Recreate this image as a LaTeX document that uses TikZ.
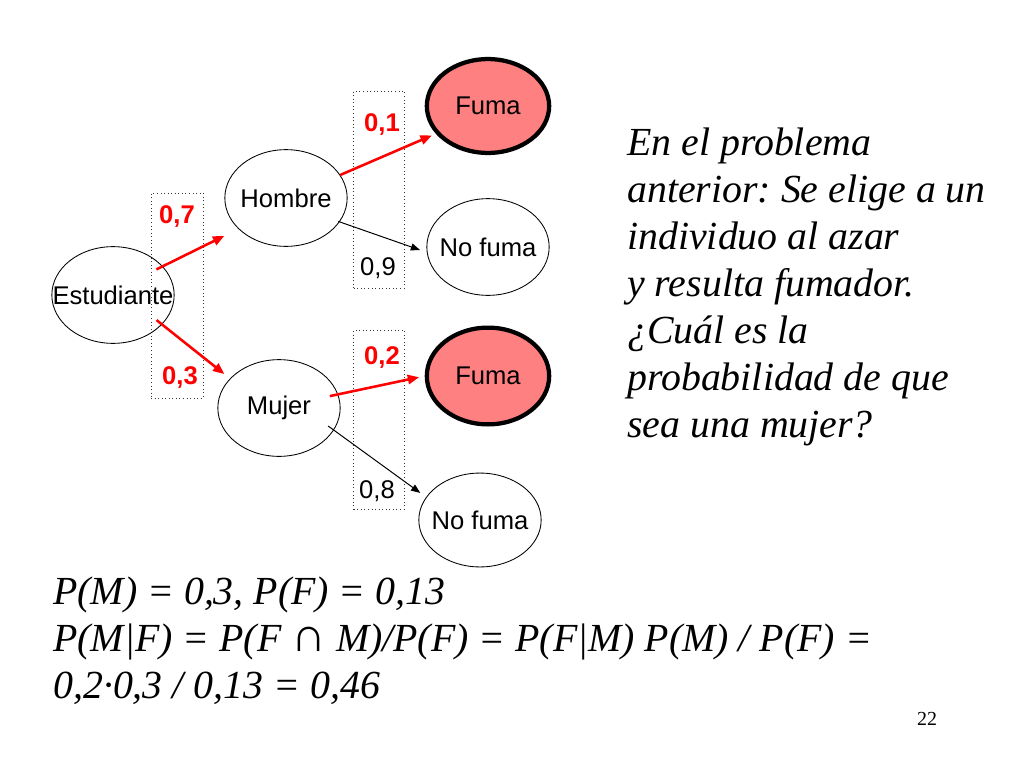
\documentclass[tikz,border=0pt]{standalone}
\usepackage{fontspec}
\setmainfont{Liberation Serif}
\newfontfamily\arial{Liberation Sans}
\usetikzlibrary{shapes.geometric,arrows.meta}
\definecolor{fumafill}{RGB}{255,128,128}
\frenchspacing

\begin{document}
\begin{tikzpicture}[
	x=0.703pt, y=-0.703pt,
	state/.style={
		draw, ellipse, line width=0.6pt, inner sep=0pt,
		minimum width=86pt, minimum height=68pt,
		font=\arial\fontsize{18}{21}\selectfont
	},
	smoke/.style={state, line width=3pt, fill=fumafill,
		minimum width=86pt, minimum height=66pt},
	probbox/.style={
		draw=black!80, dotted, line width=0.5pt, inner sep=0pt,
		minimum width=35.5pt
	},
	prob/.style={font=\arial\fontsize{18}{21}\selectfont, inner sep=0pt},
	redprob/.style={prob, font=\arial\bfseries\fontsize{18}{21}\selectfont, text=red},
	redarr/.style={-{Triangle[length=8pt,width=6.5pt]}, red, line width=1.8pt},
	blkarr/.style={-{Triangle[length=6.5pt,width=5pt]}, black, line width=0.7pt},
	txt/.style={font=\itshape\fontsize{28}{33}\selectfont, align=left, inner sep=0pt},
	]
	\useasboundingbox (0,0) rectangle (1024,768);
	
	% Dotted boxes round the probabilities
	\node[probbox, minimum width=36.6pt, minimum height=144pt] (box1) at (177,295.5) {};
	\node[probbox, minimum height=138.5pt] (box2) at (379,189.5) {};
	\node[probbox, minimum height=125.8pt] (box3) at (379,419.5) {};
	
	% Tree nodes
	\node[state] (est) at (113,295) {\makebox[0pt]{Estudiante}};
	\node[state] (hom) at (286,198) {\makebox[0pt]{Hombre}};
	\node[state] (muj) at (279,408) {\makebox[0pt]{Mujer}};
	\node[smoke] (fh)  at (488,106) {\makebox[0pt]{Fuma}};
	\node[state] (nfh) at (488,247) {\makebox[0pt]{No fuma}};
	\node[smoke, minimum height=68pt] (fm) at (488,376) {\makebox[0pt]{Fuma}};
	\node[state, minimum height=66pt] (nfm) at (480,520) {\makebox[0pt]{No fuma}};
	
	% Probabilities
	\node[redprob] (p07) at (177,217) {0,7};
	\node[redprob] (p03) at (180,378) {0,3};
	\node[redprob] (p01) at (382,125) {0,1};
	\node[prob]    (p09) at (378,268) {0,9};
	\node[redprob] (p02) at (382,358) {0,2};
	\node[prob]    (p08) at (377,491) {0,8};
	
	% Branches
	\draw[redarr, shorten <=-5pt, shorten >=11pt] (est.30) -- (hom.213);
	\draw[redarr, shorten <=-5pt, shorten >=5pt] (est.-31) -- (muj.149);
	\draw[redarr, shorten >=3pt] (hom.23) -- (fh.208);
	\draw[blkarr, shorten <=-1pt, shorten >=5pt] (hom.-24) -- (nfh.185);
	\draw[redarr, shorten <=-6pt, shorten >=4pt] (muj.13) -- (fm.180);
	\draw[blkarr, shorten <=-5pt, shorten >=5pt] (muj.-22) -- (nfm.157);
	
	% Question and solution (base = last line)
	\node[txt, anchor=base west] (quest) at (627,437)
	{En el problema\\anterior: Se elige a un\\individuo al azar\\y resulta fumador.\\¿Cuál es la\\probabilidad de que\\sea una mujer?};
	\node[txt, anchor=base west] (sol) at (53,698)
	{P(M) = 0,3, P(F) = 0,13\\P(M|F) = P(F {\upshape\fontsize{34}{33}\selectfont ∩} M)/P(F) = P(F|M) P(M) / P(F) =\\0,2·0,3 / 0,13 = 0,46};
	\node[font=\fontsize{14}{16}\selectfont, inner sep=0pt, anchor=base] (page) at (927,725) {22};
	
\end{tikzpicture}
\end{document}
